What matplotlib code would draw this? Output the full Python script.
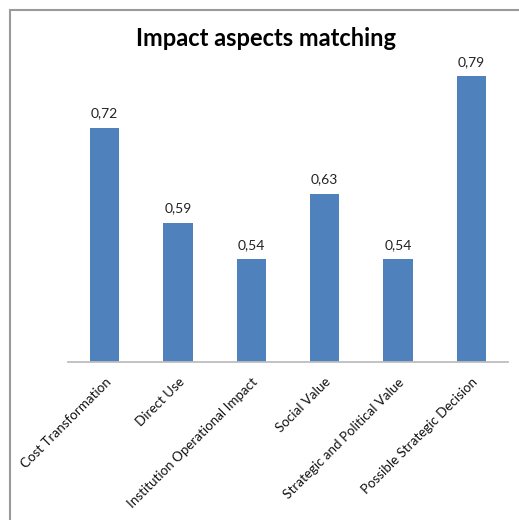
import matplotlib
matplotlib.use("Agg")
import matplotlib.pyplot as plt
from matplotlib.patches import Rectangle

categories = ["Cost Transformation", "Direct Use", "Institution Operational Impact",
              "Social Value", "Strategic and Political Value", "Possible Strategic Decision"]
values = [0.72, 0.59, 0.54, 0.63, 0.54, 0.79]
value_labels = ["0,72", "0,59", "0,54", "0,63", "0,54", "0,79"]

plt.rcParams["font.family"] = ["Lato", "DejaVu Sans"]

fig = plt.figure(figsize=(5.19, 5.20), dpi=100)
fig.patch.set_facecolor("white")

# chart frame
fig.patches.append(Rectangle((10 / 519, -0.05), 1.2, 1 - 10 / 520 + 0.05,
                             transform=fig.transFigure, fill=False,
                             edgecolor="#9a9a9a", linewidth=1.5))

ax = fig.add_axes([68 / 519, 1 - 362 / 520, 440 / 519, (362 - 69) / 520])
x = range(len(categories))
ax.bar(x, values, width=0.4, color="#4F81BD", bottom=0)
ax.set_ylim(0.4, 0.8)
ax.set_xlim(-0.5, len(categories) - 0.5)

for xi, v, lab in zip(x, values, value_labels):
    ax.annotate(lab, (xi, v), xytext=(0, 6), textcoords="offset points",
                ha="center", va="bottom", fontsize=10, color="#222222",
                annotation_clip=False)

for s in ["left", "right", "top"]:
    ax.spines[s].set_visible(False)
ax.spines["bottom"].set_color("#bdbdbd")
ax.spines["bottom"].set_linewidth(1.3)
ax.set_yticks([])
ax.set_xticks(list(x))
ax.set_xticklabels(categories, rotation=45, ha="right", rotation_mode="anchor",
                   fontsize=9.6, color="#111111")
ax.tick_params(axis="x", length=0, pad=10)

fig.text(266 / 519, 1 - 38 / 520, "Impact aspects matching", ha="center", va="center",
         fontsize=17, fontweight="bold", color="#000000")

fig.savefig("out.png", dpi=100)
